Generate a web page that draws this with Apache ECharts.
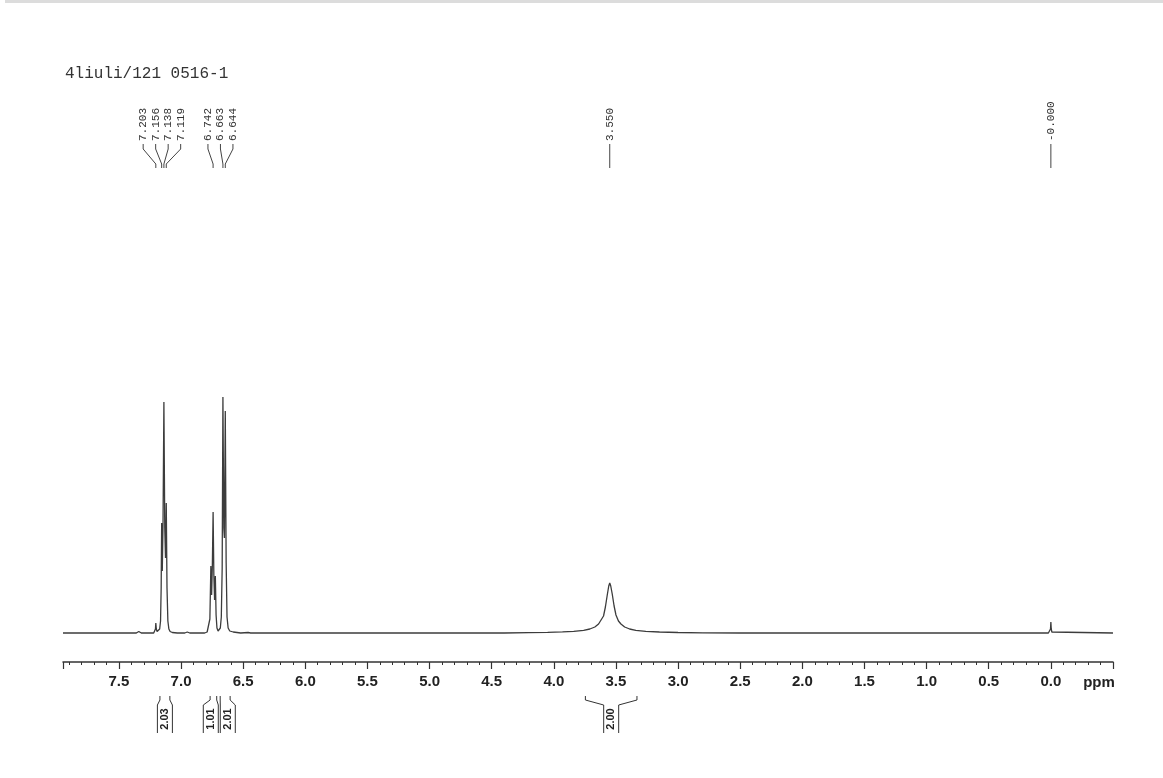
<!DOCTYPE html>
<html>
<head>
<meta charset="utf-8">
<title>4liuli/121 0516-1</title>
<script src="https://cdn.jsdelivr.net/npm/echarts@6/dist/echarts.min.js"></script>
<style>
html, body { margin: 0; padding: 0; background: #fff; }
#main { width: 1163px; height: 778px; }
</style>
</head>
<body>
<div id="main"></div>
<script>
// spectrum (ppm / height above baseline)
var specPpm = [7.95, 7.50, 7.36, 7.34, 7.32, 7.22, 7.212, 7.206, 7.203, 7.199, 7.193, 7.182, 7.172, 7.165, 7.160,
  7.156, 7.151, 7.145, 7.138, 7.131, 7.125, 7.119, 7.113, 7.106, 7.098, 7.088, 7.07, 7.03, 6.97, 6.95, 6.93,
  6.81, 6.79, 6.776, 6.768, 6.760, 6.754, 6.748, 6.742, 6.736, 6.730, 6.724, 6.718, 6.711, 6.702,
  6.693, 6.684, 6.676, 6.669, 6.663, 6.656, 6.651, 6.644, 6.637, 6.630, 6.621, 6.608, 6.58, 6.52, 6.46, 6.44,
  4.40, 4.20, 4.05, 3.93, 3.84, 3.76, 3.71, 3.67, 3.64, 3.62, 3.60, 3.585, 3.57, 3.558, 3.550, 3.542, 3.53,
  3.515, 3.50, 3.48, 3.46, 3.43, 3.39, 3.34, 3.26, 3.15, 3.00, 2.80, 2.50,
  0.02, 0.008, 0.003, 0.000, -0.003, -0.008, -0.02, -0.5];
var specInt = [0, 0, 0, 1.5, 0, 0, 1, 4, 10, 4, 1.5, 2, 4, 12, 45,
  110, 62, 110, 231, 105, 75, 130, 45, 12, 4, 1.5, 0.5, 0, 0, 1, 0,
  0, 1, 3, 14, 67, 38, 68, 121, 58, 33, 57, 18, 5, 2,
  2, 5, 16, 65, 236, 105, 95, 222, 70, 16, 5, 2, 1, 0, 0.5, 0,
  0, 0.4, 0.7, 1.1, 1.7, 2.7, 4, 6, 9, 13, 17, 26, 38, 47, 50, 47, 39,
  27, 18, 12, 9, 6, 4, 2.6, 1.6, 1, 0.5, 0.2, 0,
  0, 1, 4, 11, 4, 1, 0, 0];

// peak picking labels, grouped as printed
var peakGroups = [[7.203, 7.156, 7.138, 7.119], [6.742, 6.663, 6.644], [3.550], [0.000]];
var peakTexts = [['7.203', '7.156', '7.138', '7.119'], ['6.742', '6.663', '6.644'], ['3.550'], ['-0.000']];

// integrals: ppm range and value
var intFrom = [7.17, 6.766, 6.685, 3.746];
var intTo = [7.09, 6.713, 6.605, 3.331];
var intTexts = ['2.03', '1.01', '2.01', '2.00'];

var titleText = '4liuli/121 0516-1';

var points = [];
for (var i = 0; i < specPpm.length; i++) {
  points.push([specPpm[i], specInt[i]]);
}

var myChart = echarts.init(document.getElementById('main'));
var option = {
  animation: false,
  backgroundColor: '#fff',
  title: {
    text: titleText,
    left: 60,
    top: 61,
    textStyle: { fontFamily: '"Liberation Mono", monospace', fontSize: 16, fontWeight: 'normal', color: '#333' }
  },
  grid: { left: 63, right: 50, top: 32, bottom: 116 },
  xAxis: {
    type: 'value',
    inverse: true,
    min: -0.5,
    max: 7.95,
    interval: 0.5,
    splitLine: { show: false },
    axisLine: { onZero: false, lineStyle: { color: '#333', width: 1.5 } },
    axisTick: { length: 7, lineStyle: { color: '#333', width: 1.2 } },
    minorTick: { show: true, splitNumber: 5, length: 3, lineStyle: { color: '#333', width: 1 } },
    axisLabel: {
      margin: 12,
      showMinLabel: false,
      showMaxLabel: false,
      fontFamily: '"Liberation Sans", Arial, sans-serif',
      fontWeight: 'bold',
      fontSize: 15,
      color: '#222',
      formatter: function (v) { return v.toFixed(1); }
    }
  },
  yAxis: {
    type: 'value',
    show: false,
    min: -29,
    max: 601
  },
  series: [{
    type: 'line',
    data: points,
    showSymbol: false,
    lineStyle: { color: '#3c3c3c', width: 1.3 }
  }]
};
myChart.setOption(option);

function px(ppm) {
  return myChart.convertToPixel({ xAxisIndex: 0 }, ppm);
}

var labelFont = '11px "Liberation Mono", monospace';
var g = [];

// scan edge at top
g.push({ type: 'rect', shape: { x: 5, y: 0, width: 1158, height: 3 }, style: { fill: '#dcdcdc' }, silent: true });

// peak labels
for (var k = 0; k < peakGroups.length; k++) {
  var grp = peakGroups[k];
  var sum = 0;
  var xs = [];
  for (var j = 0; j < grp.length; j++) { xs.push(px(grp[j])); sum += xs[j]; }
  var mid = sum / grp.length;
  for (var j = 0; j < grp.length; j++) {
    var lx = mid + (j - (grp.length - 1) / 2) * 12.5;
    g.push({
      type: 'text', x: lx, y: 141, rotation: Math.PI / 2, silent: true,
      style: { text: peakTexts[k][j], font: labelFont, fill: '#333', align: 'left', verticalAlign: 'middle', textAlign: 'left', textVerticalAlign: 'middle' }
    });
    g.push({
      type: 'polyline', silent: true,
      shape: { points: [[lx, 144], [lx, 149], [xs[j], 164], [xs[j], 168]] },
      style: { stroke: '#444', lineWidth: 1, fill: null }
    });
  }
}

// integrals below the axis
var boxes = [];
for (var n = 0; n < intTexts.length; n++) {
  var xa = px(intFrom[n]), xb = px(intTo[n]);
  boxes.push({ xa: xa, xb: xb, c: (xa + xb) / 2 });
}
for (var n = 1; n < boxes.length; n++) {
  var over = (boxes[n - 1].c + 7.5 + 2) - (boxes[n].c - 7.5);
  if (over > 0) { boxes[n - 1].c -= over / 2; boxes[n].c += over / 2; }
}
for (var n = 0; n < boxes.length; n++) {
  var b = boxes[n];
  var bl = b.c - 7.5, br = b.c + 7.5;
  g.push({
    type: 'polyline', silent: true,
    shape: { points: [[b.xa, 696], [b.xa, 700], [bl, 705], [bl, 733]] },
    style: { stroke: '#333', lineWidth: 1, fill: null }
  });
  g.push({
    type: 'polyline', silent: true,
    shape: { points: [[b.xb, 696], [b.xb, 700], [br, 705], [br, 733]] },
    style: { stroke: '#333', lineWidth: 1, fill: null }
  });
  g.push({
    type: 'text', x: b.c, y: 719, rotation: Math.PI / 2, silent: true,
    style: { text: intTexts[n], font: 'bold 11px "Liberation Sans", Arial, sans-serif', fill: '#222', align: 'center', verticalAlign: 'middle', textAlign: 'center', textVerticalAlign: 'middle' }
  });
}

// axis unit
g.push({
  type: 'text', x: px(-0.5) - 14, y: 683, silent: true,
  style: { text: 'ppm', font: 'bold 15px "Liberation Sans", Arial, sans-serif', fill: '#222', align: 'center', verticalAlign: 'middle', textAlign: 'center', textVerticalAlign: 'middle' }
});

myChart.setOption({ graphic: { elements: g } });

window.onresize = function () {
  myChart.resize();
};
</script>
</body>
</html>
